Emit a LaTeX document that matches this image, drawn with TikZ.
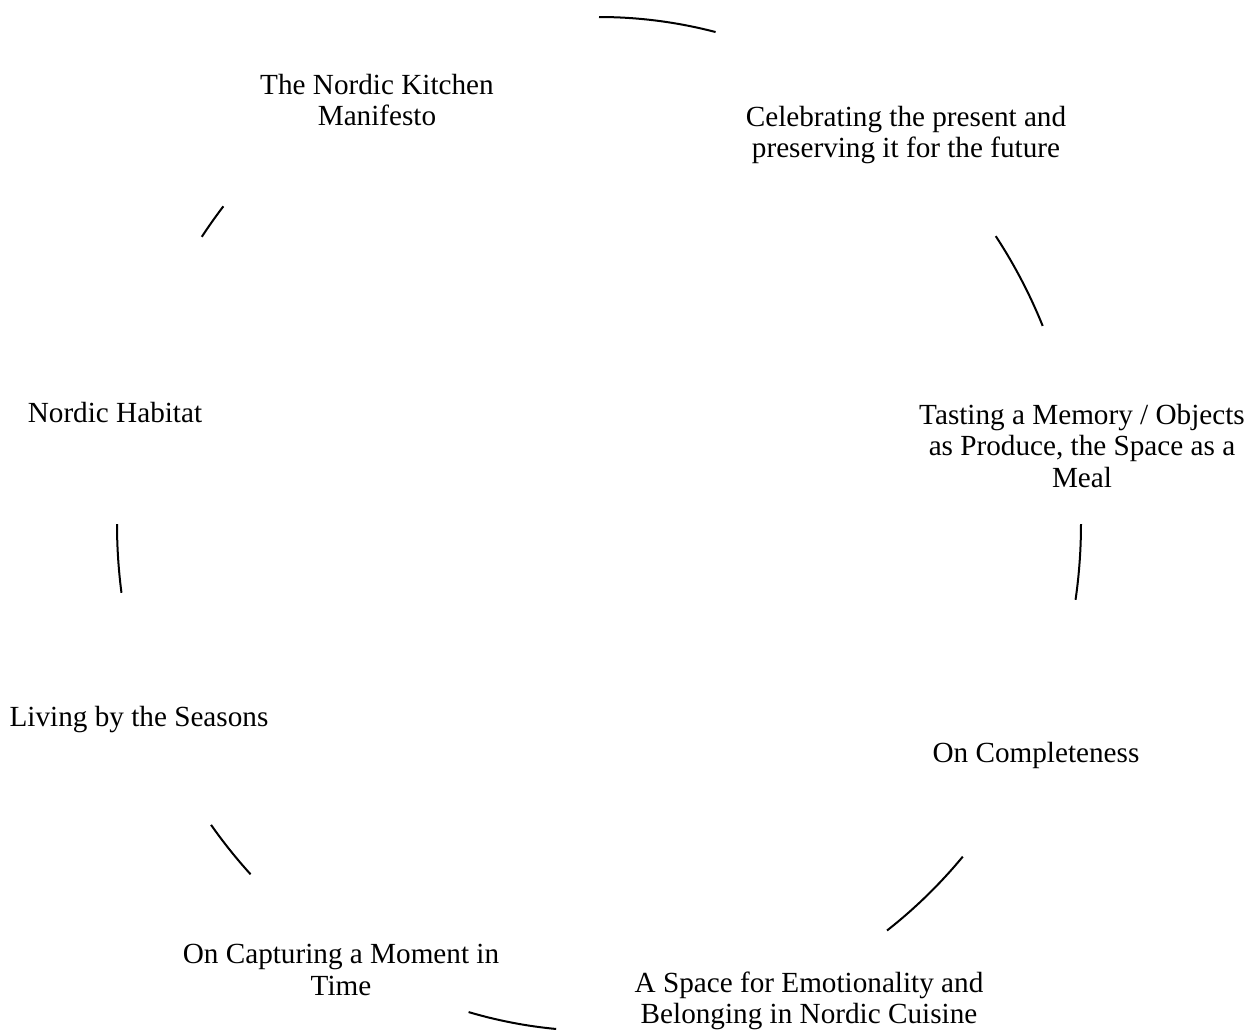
\documentclass[tikz,border=0pt]{standalone}
\usepackage{fontspec}
\setmainfont{Liberation Serif}

\begin{document}
\begin{tikzpicture}[
  x=0.5pt, y=-0.5pt,
  topic/.style={align=center, inner sep=0pt, font=\fontsize{14.6}{15.6}\selectfont},
  link/.style={line width=1pt},
]
\useasboundingbox (0,0) rectangle (1250,1034);

\coordinate (ctr) at (599,524);

\node [topic] (kitchen)  at (377,100)  {The Nordic Kitchen\\Manifesto};
\node [topic] (present)  at (906,135)  {Celebrating the present and\\preserving it for the future};
\node [topic] (tasting)  at (1082,446) {Tasting a Memory / Objects\\as Produce, the Space as a\\Meal};
\node [topic] (complete) at (1036,755) {On Completeness};
\node [topic] (space)    at (809,1001) {A Space for Emotionality and\\Belonging in Nordic Cuisine};
\node [topic] (moment)   at (341,970)  {On Capturing a Moment in\\Time};
\node [topic] (seasons)  at (139,720)  {Living by the Seasons};
\node [topic] (habitat)  at (115,413)  {Nordic Habitat};

% arcs of the cycle
\draw [link] ([shift={(-90:482 and 507)}]ctr) arc [start angle=-90, end angle=-76, x radius=482, y radius=507];
\draw [link] ([shift={(-34.6:482 and 507)}]ctr) arc [start angle=-34.6, end angle=-23, x radius=482, y radius=507];
\draw [link] ([shift={(0:482 and 507)}]ctr) arc [start angle=0, end angle=8.6, x radius=482, y radius=507];
\draw [link] ([shift={(41:482 and 507)}]ctr) arc [start angle=41, end angle=53.3, x radius=482, y radius=507];
\draw [link] ([shift={(95.1:482 and 507)}]ctr) arc [start angle=95.1, end angle=105.7, x radius=482, y radius=507];
\draw [link] ([shift={(136.3:482 and 507)}]ctr) arc [start angle=136.3, end angle=143.6, x radius=482, y radius=507];
\draw [link] ([shift={(172.2:482 and 507)}]ctr) arc [start angle=172.2, end angle=180, x radius=482, y radius=507];
\draw [link] ([shift={(-145.5:482 and 507)}]ctr) arc [start angle=-145.5, end angle=-141.2, x radius=482, y radius=507];

\end{tikzpicture}
\end{document}
